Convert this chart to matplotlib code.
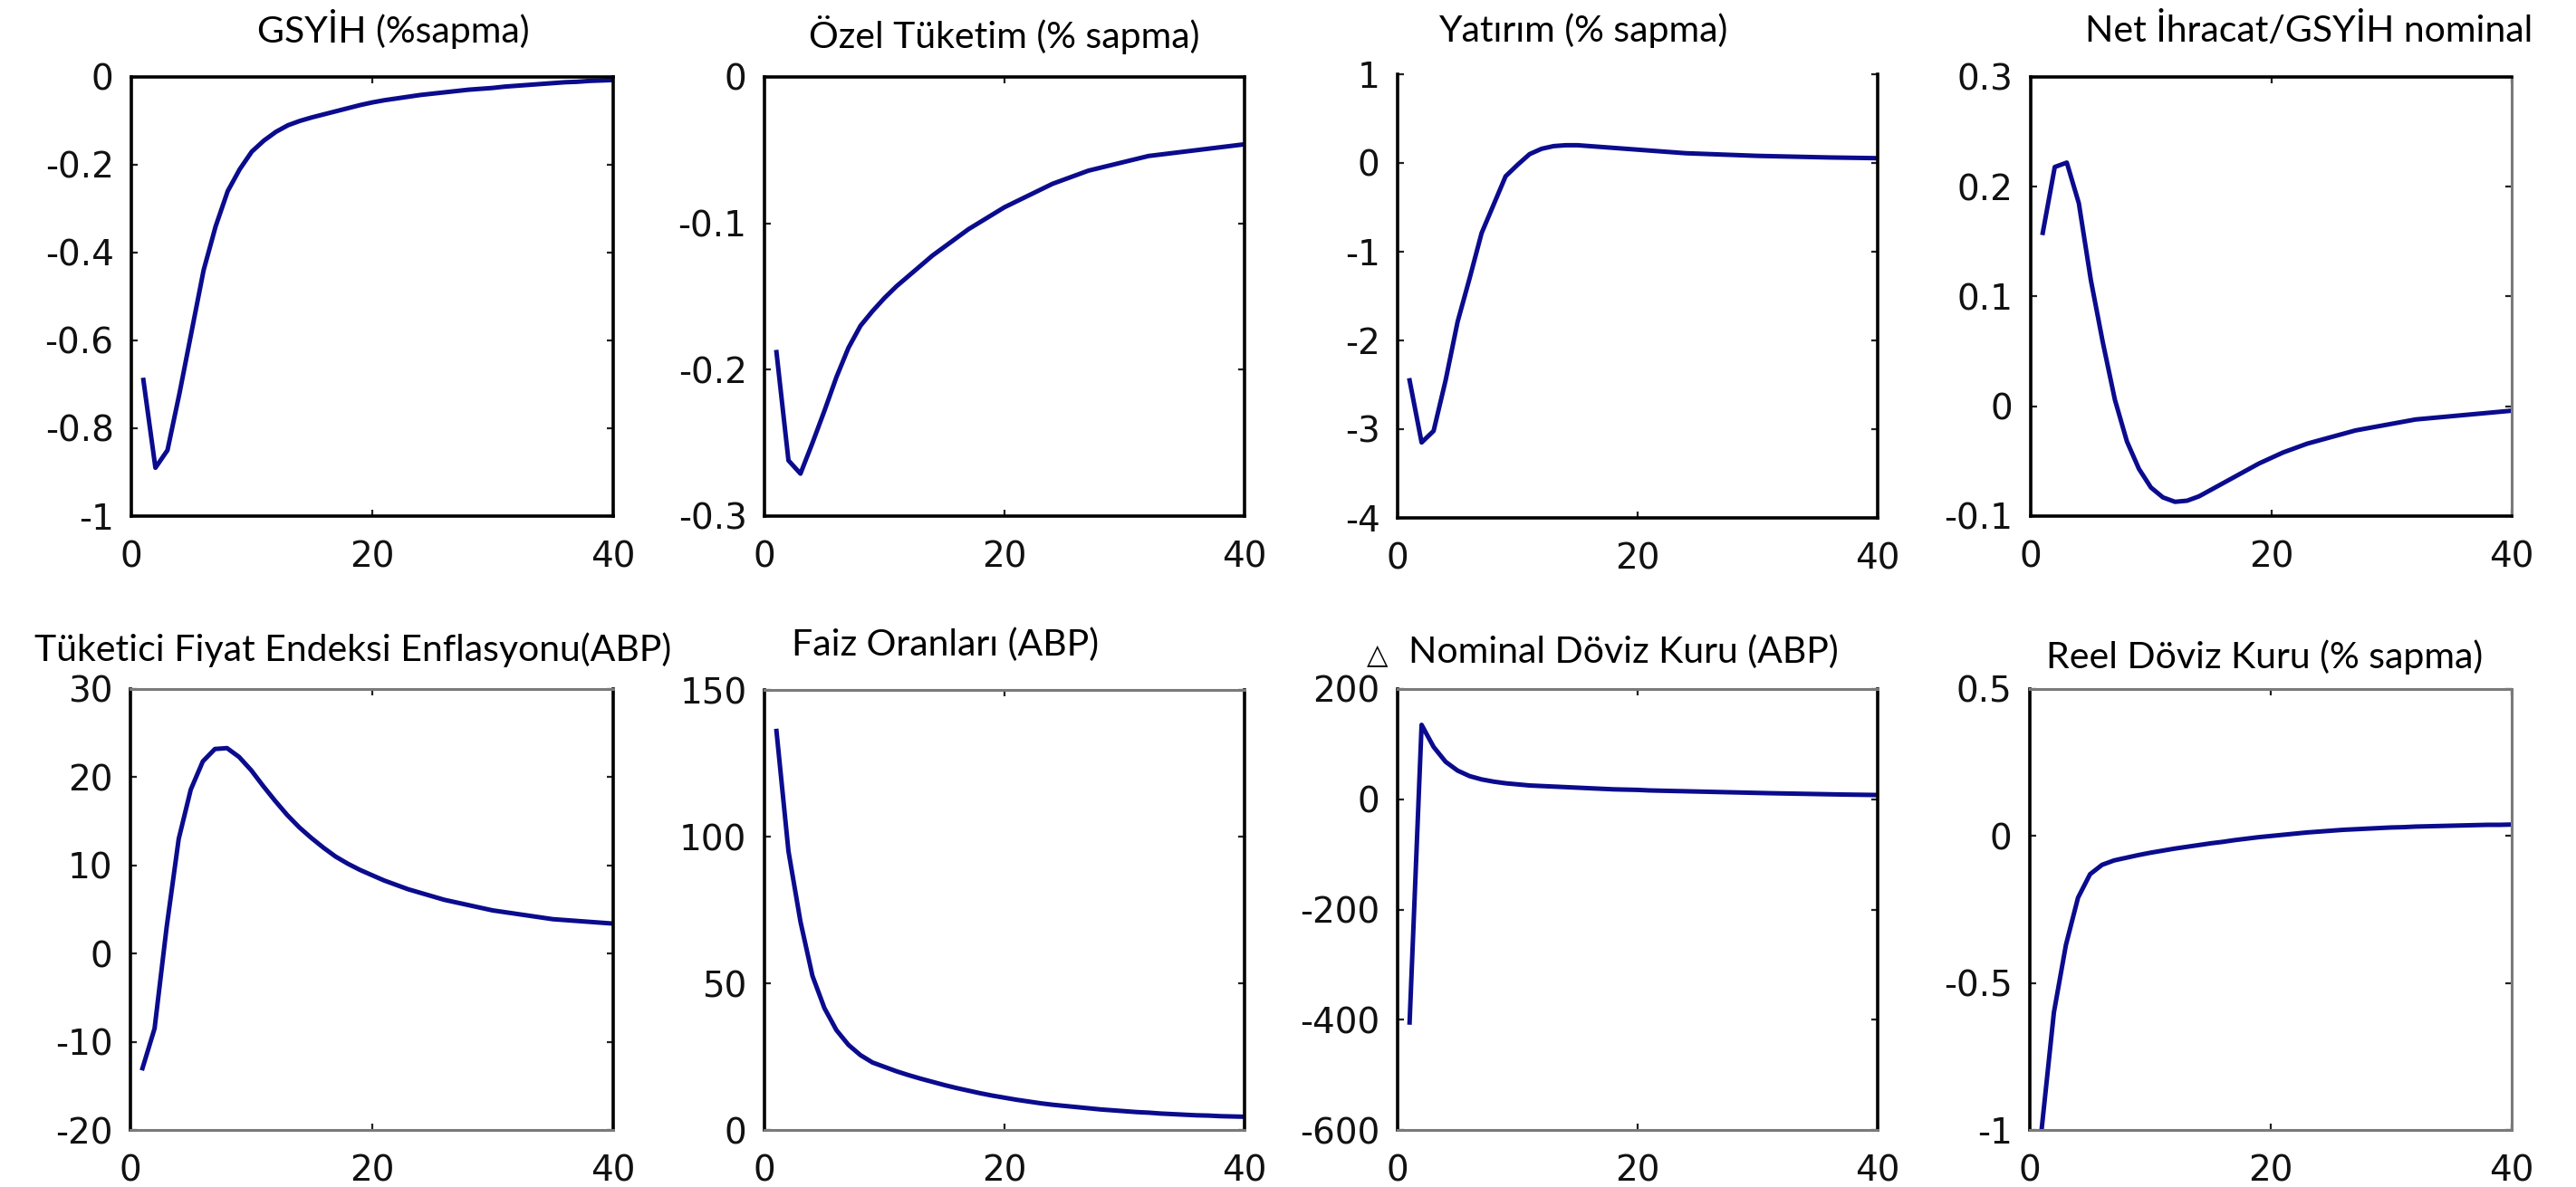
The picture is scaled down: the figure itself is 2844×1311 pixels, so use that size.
import matplotlib
matplotlib.use("Agg")
from matplotlib import pyplot as plt

W, H = 2844, 1311
DPI = 100

periods = list(range(1, 41))

gsyih = [-0.69, -0.89, -0.85, -0.72, -0.58, -0.44, -0.34, -0.26, -0.21, -0.17,
         -0.145, -0.125, -0.11, -0.10, -0.092, -0.085, -0.078, -0.071, -0.064, -0.058,
         -0.053, -0.049, -0.045, -0.041, -0.038, -0.035, -0.032, -0.029, -0.027, -0.025,
         -0.022, -0.020, -0.018, -0.016, -0.014, -0.012, -0.011, -0.009, -0.008, -0.007]

ozel_tuketim = [-0.188, -0.262, -0.271, -0.250, -0.228, -0.205, -0.185, -0.170, -0.160, -0.151,
                -0.143, -0.136, -0.129, -0.122, -0.116, -0.110, -0.104, -0.099, -0.094, -0.089,
                -0.085, -0.081, -0.077, -0.073, -0.070, -0.067, -0.064, -0.062, -0.060, -0.058,
                -0.056, -0.054, -0.053, -0.052, -0.051, -0.050, -0.049, -0.048, -0.047, -0.046]

yatirim = [-2.45, -3.15, -3.02, -2.45, -1.79, -1.30, -0.79, -0.47, -0.15, -0.02,
           0.10, 0.16, 0.19, 0.20, 0.20, 0.19, 0.18, 0.17, 0.16, 0.15,
           0.14, 0.13, 0.12, 0.11, 0.105, 0.10, 0.095, 0.09, 0.085, 0.08,
           0.077, 0.074, 0.071, 0.068, 0.065, 0.062, 0.060, 0.058, 0.056, 0.054]

net_ihracat = [0.158, 0.218, 0.222, 0.185, 0.115, 0.058, 0.006, -0.032, -0.057, -0.074,
               -0.083, -0.087, -0.086, -0.082, -0.076, -0.070, -0.064, -0.058, -0.052, -0.047,
               -0.042, -0.038, -0.034, -0.031, -0.028, -0.025, -0.022, -0.020, -0.018, -0.016,
               -0.014, -0.012, -0.011, -0.010, -0.009, -0.008, -0.007, -0.006, -0.005, -0.004]

tufe = [-13.0, -8.5, 3.0, 13.0, 18.6, 21.8, 23.2, 23.3, 22.3, 20.8,
        19.0, 17.3, 15.7, 14.3, 13.1, 12.0, 11.0, 10.2, 9.5, 8.9,
        8.3, 7.8, 7.3, 6.9, 6.5, 6.1, 5.8, 5.5, 5.2, 4.9,
        4.7, 4.5, 4.3, 4.1, 3.9, 3.8, 3.7, 3.6, 3.5, 3.4]

faiz = [136, 95, 71, 52.5, 41.5, 34, 29, 25.5, 23, 21.5,
        20, 18.7, 17.5, 16.4, 15.3, 14.3, 13.4, 12.5, 11.7, 11.0,
        10.3, 9.7, 9.1, 8.6, 8.2, 7.8, 7.4, 7.0, 6.7, 6.4,
        6.1, 5.9, 5.6, 5.4, 5.2, 5.0, 4.9, 4.7, 4.6, 4.5]

nominal_kur = [-405, 135, 95, 68, 52, 42, 36, 32, 29, 27,
               25, 24, 23, 22, 21, 20, 19, 18, 17.5, 17,
               16, 15.5, 15, 14.5, 14, 13.5, 13, 12.5, 12, 11.5,
               11, 10.6, 10.2, 9.8, 9.4, 9.0, 8.6, 8.3, 8.0, 7.7]

reel_kur = [-0.99, -0.60, -0.37, -0.21, -0.13, -0.098, -0.083, -0.074, -0.065, -0.057,
            -0.050, -0.043, -0.037, -0.031, -0.025, -0.020, -0.014, -0.009, -0.004, 0.0,
            0.004, 0.008, 0.012, 0.015, 0.018, 0.021, 0.023, 0.025, 0.027, 0.029,
            0.030, 0.032, 0.033, 0.034, 0.035, 0.036, 0.037, 0.038, 0.038, 0.039]

titles = ["GSYİH (%sapma)", "Özel Tüketim (% sapma)", "Yatırım (% sapma)",
          "Net İhracat/GSYİH nominal", "Tüketici Fiyat Endeksi Enflasyonu(ABP)",
          "Faiz Oranları (ABP)", "Nominal Döviz Kuru (ABP)", "Reel Döviz Kuru (% sapma)"]

ytick_values = [[0, -0.2, -0.4, -0.6, -0.8, -1],
                [0, -0.1, -0.2, -0.3],
                [1, 0, -1, -2, -3, -4],
                [0.3, 0.2, 0.1, 0, -0.1],
                [30, 20, 10, 0, -10, -20],
                [150, 100, 50, 0],
                [200, 0, -200, -400, -600],
                [0.5, 0, -0.5, -1]]
ytick_labels = [["0", "-0.2", "-0.4", "-0.6", "-0.8", "-1"],
                ["0", "-0.1", "-0.2", "-0.3"],
                ["1", "0", "-1", "-2", "-3", "-4"],
                ["0.3", "0.2", "0.1", "0", "-0.1"],
                ["30", "20", "10", "0", "-10", "-20"],
                ["150", "100", "50", "0"],
                ["200", "0", "-200", "-400", "-600"],
                ["0.5", "0", "-0.5", "-1"]]
xtick_values = [0, 20, 40]

series = [gsyih, ozel_tuketim, yatirim, net_ihracat, tufe, faiz, nominal_kur, reel_kur]

# axes boxes in pixels: left, right, top, bottom
boxes = [(145, 677, 85, 570), (844, 1374, 85, 570), (1543, 2073, 82, 572), (2242, 2773, 85, 570),
         (144, 677, 761, 1248), (844, 1374, 762, 1248), (1543, 2073, 761, 1248), (2241, 2773, 761, 1248)]
title_pos = [(434, 32), (1109, 38), (1748, 34), (2549, 34),
             (390, 718), (1044, 712), (1792, 720), (2500, 726)]

GRAY = "#7a7a7a"
spine_colors = [
    dict(top="k", bottom="k", left="k", right="k"),
    dict(top="k", bottom="k", left="k", right="k"),
    dict(top=None, bottom="k", left="k", right="k"),
    dict(top="k", bottom="k", left="k", right=GRAY),
    dict(top=GRAY, bottom=GRAY, left="k", right="k"),
    dict(top=GRAY, bottom=GRAY, left="k", right="k"),
    dict(top=GRAY, bottom=GRAY, left="k", right="k"),
    dict(top=GRAY, bottom=GRAY, left="k", right=GRAY),
]

LINE = "#0b0b8e"


def main():
    fig = plt.figure(figsize=(W / DPI, H / DPI), dpi=DPI)
    fig.patch.set_facecolor("white")

    for i in range(8):
        l, r, t, b = boxes[i]
        ax = fig.add_axes([l / W, 1 - b / H, (r - l) / W, (b - t) / H])
        ax.plot(periods, series[i], color=LINE, linewidth=3.6, solid_joinstyle="round")
        ax.set_xlim(0, 40)
        yv = ytick_values[i]
        ax.set_ylim(min(yv), max(yv))
        ax.set_xticks(xtick_values)
        ax.set_xticklabels([str(v) for v in xtick_values])
        ax.set_yticks(yv)
        ax.set_yticklabels(ytick_labels[i])
        ax.tick_params(direction="in", length=5, width=1.6, color="#222222",
                       top=(i != 2), right=True, labelsize=28, labelcolor="#111111")
        ax.tick_params(axis="x", pad=19)
        ax.tick_params(axis="y", pad=14)
        for lab in ax.get_xticklabels() + ax.get_yticklabels():
            lab.set_fontfamily("DejaVu Sans")
        for side, c in spine_colors[i].items():
            if c is None:
                ax.spines[side].set_visible(False)
            else:
                ax.spines[side].set_color(c)
                ax.spines[side].set_linewidth(2.6 if c == "k" else 2.2)

        tx, ty = title_pos[i]
        fig.text(tx / W, 1 - ty / H, titles[i], ha="center", va="center",
                 fontsize=29.5, family="Lato", color="black")

    # small delta mark left of the nominal exchange rate title
    fig.text(1521 / W, 1 - 724 / H, "△", ha="center", va="center",
             fontsize=22, family="DejaVu Sans", color="black")

    fig.savefig("out.png", dpi=DPI, facecolor="white")


if __name__ == "__main__":
    main()
